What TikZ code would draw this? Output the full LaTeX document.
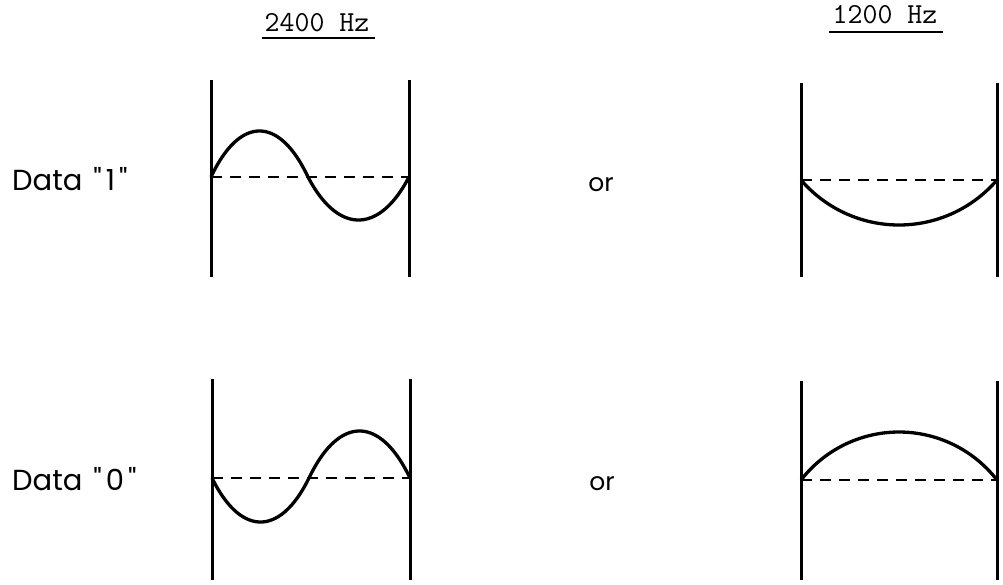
\documentclass[tikz,border=0pt]{standalone}
\usepackage{fontspec}
\newfontfamily\lblfont{Poppins}
\tikzset{
  frame/.style={line width=3pt},
  wave/.style={line width=3.3pt, line join=round},
  axisline/.style={line width=2.6pt, dash pattern=on 11pt off 8pt},
  lbl/.style={inner sep=0pt, anchor=base west, font=\lblfont\fontsize{29}{32}\selectfont},
  ortext/.style={inner sep=0pt, anchor=base, font=\lblfont\fontsize{25}{28}\selectfont},
  head/.style={inner sep=0pt, anchor=base, font=\ttfamily\fontsize{29}{32}\selectfont},
}
\begin{document}
\begin{tikzpicture}[x=1pt,y=-1pt]
\useasboundingbox (0,0) rectangle (1003,584);
% headers
\node[head] (h2400) at (317,31) {2400 Hz};
\draw[line width=2.2pt] (262,38) -- (375,38);
\node[head] (h1200) at (885,23) {1200 Hz};
\draw[line width=2.2pt] (829,32) -- (943,32);
% labels
\node[lbl] (d1) at (12,190) {Data\hspace{11pt}"\hspace{4pt}1\hspace{4pt}"};
\node[lbl] (d0) at (12,490) {Data\hspace{11pt}"\hspace{4pt}0\hspace{4pt}"};
\node[ortext] (or1) at (601,191) {or};
\node[ortext] (or0) at (602,490) {or};
% top-left panel
\draw[frame] (211,80) -- (211,277);
\draw[frame] (409,80) -- (409,277);
\draw[axisline] (211,177) -- (409,177);
\draw[wave] plot[domain=0:180,samples=60] ({211+0.37722*\x+14.55*(1-cos(\x))},{177-46*sin(\x)})
  -- plot[domain=0:180,samples=60] ({308+0.39278*\x+15.15*(1-cos(\x))},{177+43*sin(\x)});
% top-right panel
\draw[frame] (801,83) -- (801,277);
\draw[frame] (997,83) -- (997,277);
\draw[axisline] (801,180) -- (997,180);
\draw[wave] plot[domain=-49.3:49.3,samples=60] ({899+129.2*sin(\x)},{95.8+129.2*cos(\x)});
% bottom-left panel
\draw[frame] (212,379) -- (212,580);
\draw[frame] (410,379) -- (410,580);
\draw[axisline] (212,478) -- (410,478);
\draw[wave] plot[domain=0:180,samples=60] ({212+0.37722*\x+14.55*(1-cos(\x))},{478+44*sin(\x)})
  -- plot[domain=0:180,samples=60] ({309+0.39278*\x+15.15*(1-cos(\x))},{478-47*sin(\x)});
% bottom-right panel
\draw[frame] (801,381) -- (801,580);
\draw[frame] (997,381) -- (997,580);
\draw[axisline] (801,480) -- (997,480);
\draw[wave] plot[domain=-52.2:52.2,samples=60] ({899+124*sin(\x)},{556-124*cos(\x)});
\end{tikzpicture}
\end{document}
